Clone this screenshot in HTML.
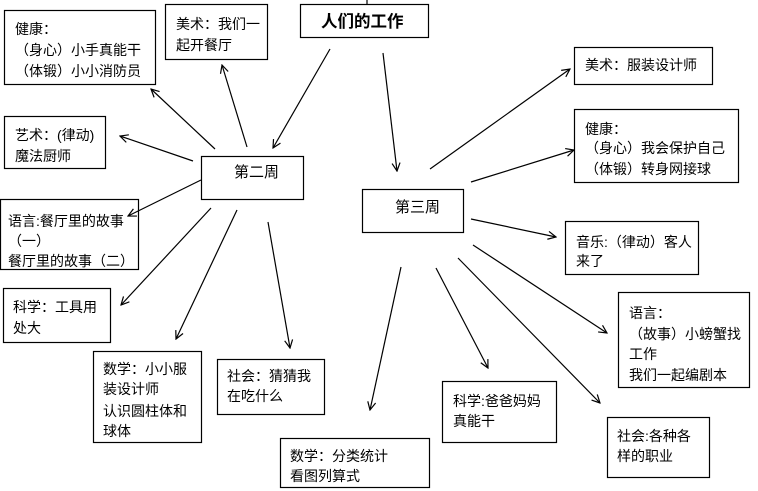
<!DOCTYPE html>
<html><head><meta charset="utf-8"><style>
html,body{margin:0;padding:0;background:#fff;}
svg{display:block;}
text{font-family:"Liberation Sans","Noto Sans CJK SC","WenQuanYi Zen Hei",sans-serif;font-size:14px;fill:#000;}
</style></head><body>
<svg width="758" height="491" viewBox="0 0 758 491" xmlns="http://www.w3.org/2000/svg">
<defs>
<marker id="a" markerWidth="10" markerHeight="10" refX="9" refY="5" orient="auto" markerUnits="userSpaceOnUse">
<path d="M1,1 L9,5 L1,9" fill="none" stroke="#000" stroke-width="1.2"/>
</marker>
</defs>
<g fill="none" stroke="#000" stroke-width="1.2">
<rect x="4.5" y="10.5" width="151" height="74"/>
<rect x="165.5" y="4.5" width="102" height="55"/>
<rect x="300.5" y="4.5" width="128" height="33"/>
<rect x="4.5" y="116.5" width="101" height="52"/>
<rect x="201.5" y="156.5" width="102" height="43"/>
<rect x="0.5" y="199.5" width="138" height="70"/>
<rect x="362.5" y="189.5" width="101" height="43"/>
<rect x="3.5" y="288.5" width="107" height="54"/>
<rect x="93.5" y="351.5" width="108" height="91"/>
<rect x="217.5" y="359.5" width="107" height="55"/>
<rect x="280.5" y="438.5" width="149" height="49"/>
<rect x="574.5" y="47.5" width="138" height="37"/>
<rect x="574.5" y="109.5" width="164" height="73"/>
<rect x="565.5" y="221.5" width="133" height="53"/>
<rect x="618.5" y="292.5" width="131" height="95"/>
<rect x="442.5" y="381.5" width="114" height="61"/>
<rect x="607.5" y="417.5" width="102" height="60"/>
<line x1="367" y1="0" x2="367" y2="4"/>
</g>
<g stroke="#000" stroke-width="1.2" marker-end="url(#a)">
<line x1="330" y1="49" x2="273" y2="148"/>
<line x1="383" y1="53" x2="397" y2="171"/>
<line x1="215" y1="149" x2="151" y2="89"/>
<line x1="247" y1="147" x2="222" y2="65"/>
<line x1="193" y1="161" x2="120" y2="136"/>
<line x1="201" y1="180" x2="128" y2="216"/>
<line x1="211" y1="208" x2="121" y2="305"/>
<line x1="237" y1="210" x2="176" y2="339"/>
<line x1="268" y1="222" x2="290" y2="348"/>
<line x1="430" y1="169" x2="570" y2="69"/>
<line x1="471" y1="182" x2="574" y2="150"/>
<line x1="471" y1="219" x2="556" y2="237"/>
<line x1="473" y1="245" x2="607" y2="333"/>
<line x1="458" y1="258" x2="600" y2="403"/>
<line x1="436" y1="268" x2="488" y2="368"/>
<line x1="401" y1="267" x2="370" y2="410"/>
</g>
<text x="15" y="34">健康：</text>
<text x="15" y="55">（身心）小手真能干</text>
<text x="15" y="76">（体锻）小小消防员</text>
<text x="176" y="29">美术：我们一</text>
<text x="176" y="50">起开餐厅</text>
<text x="321" y="27" style="font-size:16.5px;font-weight:bold">人们的工作</text>
<text x="15" y="140">艺术：(律动)</text>
<text x="15" y="161">魔法厨师</text>
<text x="234" y="177" style="font-size:15px">第二周</text>
<text x="8" y="226">语言:餐厅里的故事</text>
<text x="8" y="246">（一）</text>
<text x="8" y="266">餐厅里的故事（二）</text>
<text x="395" y="212" style="font-size:15px">第三周</text>
<text x="13" y="312">科学：工具用</text>
<text x="13" y="333">处大</text>
<text x="103" y="374">数学：小小服</text>
<text x="103" y="394">装设计师</text>
<text x="103" y="416">认识圆柱体和</text>
<text x="103" y="436">球体</text>
<text x="227" y="381">社会：猜猜我</text>
<text x="227" y="401">在吃什么</text>
<text x="290" y="461">数学：分类统计</text>
<text x="290" y="481">看图列算式</text>
<text x="585" y="70">美术：服装设计师</text>
<text x="585" y="134">健康：</text>
<text x="585" y="153">（身心）我会保护自己</text>
<text x="585" y="174">（体锻）转身网接球</text>
<text x="576" y="247">音乐:（律动）客人</text>
<text x="576" y="266">来了</text>
<text x="629" y="318">语言：</text>
<text x="629" y="339">（故事）小螃蟹找</text>
<text x="629" y="359">工作</text>
<text x="629" y="380">我们一起编剧本</text>
<text x="453" y="406">科学:爸爸妈妈</text>
<text x="453" y="426">真能干</text>
<text x="617" y="441">社会:各种各</text>
<text x="617" y="461">样的职业</text>
</svg>
</body></html>
